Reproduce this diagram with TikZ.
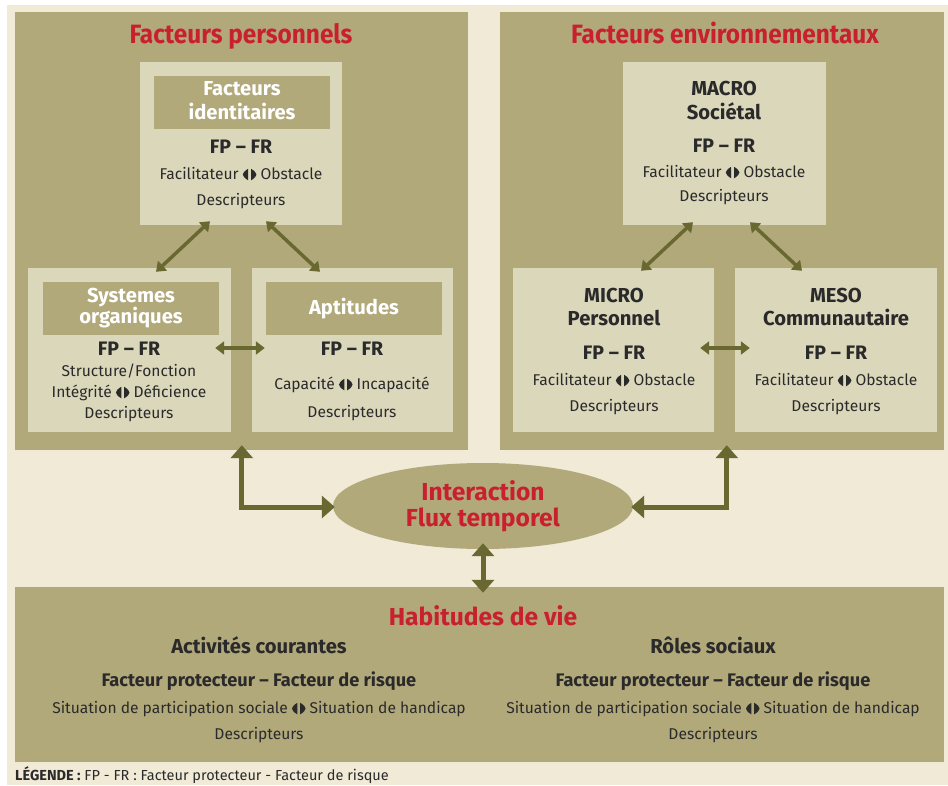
\documentclass[tikz,border=0pt]{standalone}
\usepackage{fontspec}
\setmainfont{Fira Sans}
\newfontfamily\condfont{Fira Sans}[FakeStretch=0.92]
\usetikzlibrary{arrows.meta,shapes.geometric,calc}

\definecolor{cream}{HTML}{F1EAD7}
\definecolor{olive}{HTML}{B2A97B}
\definecolor{pale}{HTML}{DBD7BB}
\definecolor{arrowc}{HTML}{686830}
\definecolor{titlered}{HTML}{C8202F}
\definecolor{ink}{HTML}{2A2A2A}

% split-diamond sign used between opposite descriptors
\newsavebox\oppobox
\newcommand{\halfpiece}[4]{%
  \pgfpathmoveto{\pgfpoint{#1pt}{-0.6pt}}%
  \pgfpathcurveto{\pgfpoint{#2pt}{1.5pt}}{\pgfpoint{#3pt}{3.8pt}}{\pgfpoint{#4pt}{5.2pt}}%
  \pgfpathcurveto{\pgfpoint{#4pt}{6.6pt}}{\pgfpoint{#2pt}{8.9pt}}{\pgfpoint{#1pt}{11.0pt}}%
  \pgfpathclose}

\tikzset{
  panel/.style={fill=olive, draw=none, inner sep=0pt},
  card/.style={fill=pale, draw=none, inner sep=0pt, minimum height=164pt},
  band/.style={fill=olive, draw=none, inner sep=0pt, minimum width=176pt, minimum height=53pt},
  txt/.style={inner sep=0pt, text height=1.35em, text depth=0pt, text=ink},
  title/.style={txt, text=titlered, font=\condfont\bfseries\fontsize{26.5}{30}\selectfont},
  bandtxt/.style={txt, text=white, font=\bfseries\fontsize{20.2}{23}\selectfont},
  level/.style={txt, font=\bfseries\fontsize{20.2}{23}\selectfont},
  fpfr/.style={txt, font=\bfseries\fontsize{19.5}{22}\selectfont},
  body/.style={txt, font=\fontsize{15.6}{18}\selectfont},
  redtxt/.style={txt, text=titlered, font=\bfseries\fontsize{24.6}{28}\selectfont},
  sub/.style={txt, font=\bfseries\fontsize{20.2}{23}\selectfont},
  subb/.style={txt, font=\bfseries\fontsize{18.2}{21}\selectfont},
  thinarrow/.style={line width=3.5pt, draw=arrowc,
    {Triangle[width=13pt,length=9pt]}-{Triangle[width=13pt,length=9pt]}},
  bigarrow/.style={line width=5pt, draw=arrowc,
    {Triangle[width=22pt,length=13pt]}-{Triangle[width=22pt,length=13pt]}},
}

\newcommand{\oppo}{\usebox\oppobox}

\begin{document}
\sbox\oppobox{\begin{pgfpicture}%
  \pgfsetbaseline{0pt}%
  \pgfsetfillcolor{ink}%
  \halfpiece{5.4}{1.8}{0}{0}%
  \halfpiece{8.2}{11.8}{13.6}{13.6}%
  \pgfusepath{fill}%
\end{pgfpicture}}%
\begin{tikzpicture}[x=1pt,y=-1pt]
\useasboundingbox (0,0) rectangle (948,785);
\fill[white] (0,0) rectangle (948,785);
\fill[cream] (7,5) rectangle (948,785);

% three large panels
\node[panel, minimum width=453pt, minimum height=438pt] (lp) at (241.5,231) {};
\node[panel, minimum width=444pt, minimum height=438pt] (rp) at (722,231) {};
\node[panel, minimum width=929pt, minimum height=175pt] (bp) at (479.5,674.5) {};

\node[title] (tlp) at (241,37) {Facteurs personnels};
\node[title] (trp) at (725,37) {Facteurs environnementaux};

% personal factors
\node[card, minimum width=202pt, minimum height=163pt] (id) at (241,143.5) {};
\node[band] (idb) at (242,102.5) {};
\node[bandtxt] (id1) at (242,89) {Facteurs};
\node[bandtxt] (id2) at (242,113) {identitaires};
\node[fpfr] (id3) at (241,147) {FP -- FR};
\node[body] (id4) at (241,173) {Facilitateur \oppo\ Obstacle};
\node[body] (id5) at (241,199) {Descripteurs};

\node[card, minimum width=203pt] (sys) at (129.5,350) {};
\node[band] (sysb) at (131,308.5) {};
\node[bandtxt] (sys1) at (131,296) {Systemes};
\node[bandtxt] (sys2) at (131,317) {organiques};
\node[fpfr] (sys3) at (129,349) {FP -- FR};
\node[body] (sys4) at (129,370) {Structure/Fonction};
\node[body] (sys5) at (129,391) {Intégrité \oppo\ Déficience};
\node[body] (sys6) at (129,412) {Descripteurs};

\node[card, minimum width=201pt] (apt) at (352.5,350) {};
\node[band] (aptb) at (354,308.5) {};
\node[bandtxt] (apt1) at (354,308) {Aptitudes};
\node[fpfr] (apt2) at (352,349) {FP -- FR};
\node[body] (apt3) at (352,383) {Capacité \oppo\ Incapacité};
\node[body] (apt4) at (352,411) {Descripteurs};

% environmental factors
\node[card, minimum width=203pt, minimum height=163pt] (macro) at (724.5,143.5) {};
\node[level] (ma1) at (724,89) {MACRO};
\node[level] (ma2) at (724,113) {Sociétal};
\node[fpfr] (ma3) at (724,146) {FP -- FR};
\node[body] (ma4) at (724,171) {Facilitateur \oppo\ Obstacle};
\node[body] (ma5) at (724,195) {Descripteurs};

\node[card, minimum width=201pt] (micro) at (613.5,350) {};
\node[level] (mi1) at (614,296) {MICRO};
\node[level] (mi2) at (614,319) {Personnel};
\node[fpfr] (mi3) at (614,353) {FP -- FR};
\node[body] (mi4) at (614,379) {Facilitateur \oppo\ Obstacle};
\node[body] (mi5) at (614,405) {Descripteurs};

\node[card, minimum width=202pt] (meso) at (836,350) {};
\node[level] (me1) at (836,296) {MESO};
\node[level] (me2) at (836,319) {Communautaire};
\node[fpfr] (me3) at (836,353) {FP -- FR};
\node[body] (me4) at (836,379) {Facilitateur \oppo\ Obstacle};
\node[body] (me5) at (836,405) {Descripteurs};

% interaction
\node[ellipse, fill=olive, draw=none, inner sep=0pt,
      minimum width=300pt, minimum height=86pt] (ell) at (483,506) {};
\node[redtxt] (el1) at (483,494) {Interaction};
\node[redtxt] (el2) at (483,520) {Flux temporel};

% life habits
\node[redtxt] (hv) at (483,619) {Habitudes de vie};
\node[sub] (ac1) at (259,647) {Activités courantes};
\node[subb] (ac2) at (259,680) {Facteur protecteur -- Facteur de risque};
\node[body] (ac3) at (259,707) {Situation de participation sociale \oppo\ Situation de handicap};
\node[body] (ac4) at (259,733) {Descripteurs};
\node[sub] (rs1) at (713,647) {Rôles sociaux};
\node[subb] (rs2) at (713,680) {Facteur protecteur -- Facteur de risque};
\node[body] (rs3) at (713,707) {Situation de participation sociale \oppo\ Situation de handicap};
\node[body] (rs4) at (713,733) {Descripteurs};

\node[txt, anchor=west, font=\fontsize{14.5}{17}\selectfont] (leg) at (15,774)
  {\textbf{LÉGENDE :} FP - FR : Facteur protecteur - Facteur de risque};

% connectors
\draw[thinarrow] ($(id.south)+(-31,-4)$) -- ($(sys.north)+(26.5,4)$);
\draw[thinarrow] ($(id.south)+(25,-4)$) -- ($(apt.north)+(-32.5,4)$);
\draw[thinarrow] ($(sys.east)+(-16,-2)$) -- ($(apt.west)+(13,-2)$);
\draw[thinarrow] ($(macro.south)+(-31.5,-3)$) -- ($(micro.north)+(27.5,3)$);
\draw[thinarrow] ($(macro.south)+(25.5,-3)$) -- ($(meso.north)+(-34,3)$);
\draw[thinarrow] ($(micro.east)+(-14,-2)$) -- ($(meso.west)+(15,-2)$);

\draw[bigarrow] ($(ell.west)+(2,1)$) -| ($(lp.south west)+(227,-5)$);
\draw[bigarrow] ($(ell.east)+(-2,1)$) -| ($(rp.south west)+(227,-5)$);
\draw[bigarrow] ($(ell.south)+(0,-6)$) -- ($(ell.south |- bp.north)+(0,6)$);
\end{tikzpicture}
\end{document}
